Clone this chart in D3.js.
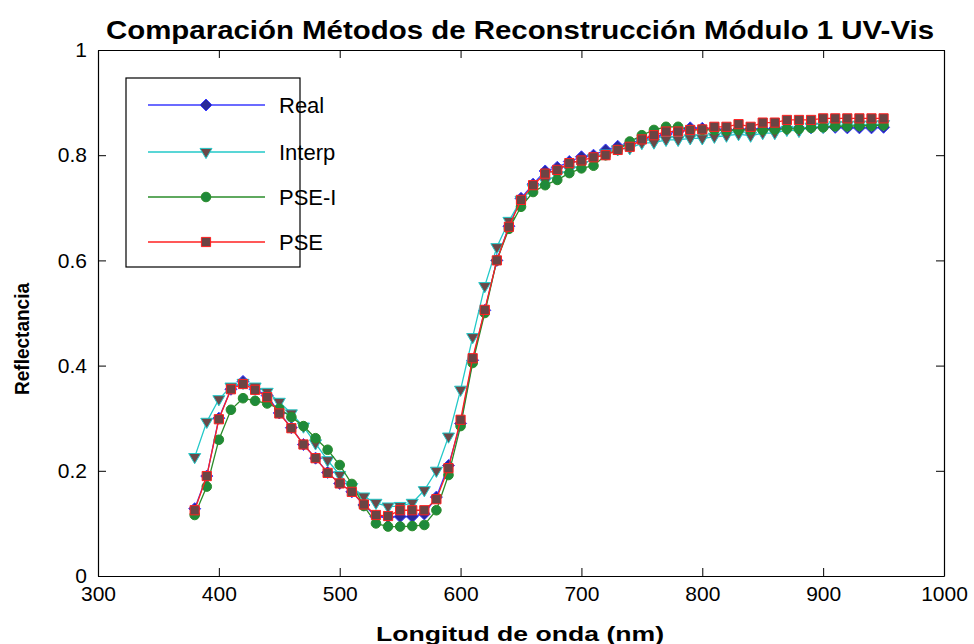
<!DOCTYPE html>
<html>
<head>
<meta charset="utf-8">
<script src="https://cdn.jsdelivr.net/npm/d3@7"></script>
<style>
  html, body { margin: 0; padding: 0; background: #fff; }
  svg { display: block; }
  text { font-family: "Liberation Sans", Arial, sans-serif; }
</style>
</head>
<body>
<svg id="chart" width="974" height="644"></svg>
<script>
// ---------------- DATA ----------------
const wavelengths = d3.range(380, 951, 10); // 380..950 nm
const real = [0.128,0.19,0.30,0.355,0.37,0.355,0.343,0.31,0.282,0.25,0.224,0.197,0.176,0.16,0.135,0.113,0.112,0.113,0.113,0.118,0.15,0.21,0.29,0.41,0.505,0.6,0.665,0.718,0.745,0.77,0.777,0.788,0.797,0.8,0.81,0.817,0.822,0.83,0.835,0.84,0.845,0.852,0.851,0.85,0.848,0.849,0.85,0.85,0.851,0.852,0.852,0.852,0.853,0.853,0.852,0.852,0.852,0.853];
const interp = [0.226,0.293,0.336,0.36,0.367,0.36,0.35,0.331,0.309,0.284,0.252,0.22,0.192,0.169,0.151,0.139,0.132,0.133,0.139,0.163,0.2,0.265,0.354,0.454,0.551,0.625,0.675,0.715,0.737,0.75,0.762,0.772,0.781,0.794,0.803,0.811,0.813,0.823,0.824,0.829,0.829,0.832,0.832,0.835,0.837,0.84,0.837,0.842,0.842,0.848,0.846,0.854,0.854,0.857,0.857,0.858,0.858,0.859];
const pseI = [0.116,0.17,0.259,0.316,0.338,0.333,0.328,0.318,0.302,0.285,0.262,0.24,0.211,0.175,0.133,0.1,0.094,0.094,0.095,0.097,0.125,0.192,0.285,0.405,0.5,0.6,0.66,0.702,0.73,0.743,0.753,0.766,0.775,0.78,0.8,0.81,0.826,0.838,0.848,0.854,0.854,0.848,0.848,0.848,0.847,0.848,0.848,0.848,0.849,0.85,0.85,0.852,0.853,0.855,0.855,0.856,0.856,0.857];
const pse = [0.125,0.19,0.298,0.355,0.365,0.354,0.34,0.309,0.281,0.25,0.224,0.196,0.176,0.16,0.136,0.116,0.114,0.125,0.125,0.125,0.146,0.205,0.297,0.414,0.506,0.6,0.664,0.715,0.743,0.765,0.772,0.785,0.79,0.796,0.8,0.81,0.816,0.83,0.838,0.845,0.845,0.848,0.849,0.854,0.854,0.859,0.854,0.862,0.862,0.867,0.867,0.867,0.87,0.87,0.87,0.87,0.87,0.87];

const seriesNames = ["Real", "Interp", "PSE-I", "PSE"];
const xTicks = [300,400,500,600,700,800,900,1000];
const yTicks = [0,0.2,0.4,0.6,0.8,1];

const title = "Comparación Métodos de Reconstrucción Módulo 1 UV-Vis";
const xLabel = "Longitud de onda (nm)";
const yLabel = "Reflectancia";

// ---------------- STYLE ----------------
const styles = {
  "Real":   { line: "#3a3aff", fill: "#2a2a9a", stroke: "#3a3aff", symbol: "diamond", r: 6 },
  "Interp": { line: "#22c8c8", fill: "#6b4848", stroke: "#22c8c8", symbol: "triDown", r: 6 },
  "PSE-I":  { line: "#2a8c2a", fill: "#1f8a3a", stroke: "#2a8c2a", symbol: "circle", r: 4.8 },
  "PSE":    { line: "#ff2020", fill: "#6b4444", stroke: "#ff2020", symbol: "square", r: 4.6 }
};
const seriesValues = { "Real": real, "Interp": interp, "PSE-I": pseI, "PSE": pse };

// ---------------- LAYOUT ----------------
const svg = d3.select("#chart");
const L = 98, R = 944, T = 50, B = 576;

const x = d3.scaleLinear().domain([300, 1000]).range([L, R]);
const y = d3.scaleLinear().domain([0, 1]).range([B, T]);

function markerPath(st) {
  const r = st.r;
  if (st.symbol === "triDown") return `M${-r},${-r*0.6}L${r},${-r*0.6}L0,${r*1.1}Z`;
  if (st.symbol === "diamond") return `M0,${-r}L${r},0L0,${r}L${-r},0Z`;
  if (st.symbol === "square") return `M${-r},${-r}H${r}V${r}H${-r}Z`;
  return d3.symbol().type(d3.symbolCircle).size(Math.PI * r * r)();
}

// Axes with inward ticks
const tickLen = 8;
const xAxisB = d3.axisBottom(x).tickValues(xTicks).tickSizeInner(-tickLen).tickSizeOuter(0).tickPadding(10).tickFormat(d3.format("d"));
const xAxisT = d3.axisTop(x).tickValues(xTicks).tickSizeInner(-tickLen).tickSizeOuter(0).tickFormat("");
const yAxisL = d3.axisLeft(y).tickValues(yTicks).tickSizeInner(-tickLen).tickSizeOuter(0).tickPadding(11).tickFormat(d => d === 0 ? "0" : d === 1 ? "1" : d3.format(".1f")(d));
const yAxisR = d3.axisRight(y).tickValues(yTicks).tickSizeInner(-tickLen).tickSizeOuter(0).tickFormat("");

function styleAxis(g) {
  g.attr("font-size", null).attr("font-family", null);
  g.selectAll("path").attr("stroke", "#000").attr("stroke-width", 1.2);
  g.selectAll("line").attr("stroke", "#000").attr("stroke-width", 1);
  g.selectAll("text").attr("fill", "#000").style("font-size", "21px")
    .style("font-family", '"Liberation Sans", Arial, sans-serif');
}
svg.append("g").attr("transform", `translate(0,${B})`).call(xAxisB).call(styleAxis);
svg.append("g").attr("transform", `translate(0,${T})`).call(xAxisT).call(styleAxis);
svg.append("g").attr("transform", `translate(${L},0)`).call(yAxisL).call(styleAxis);
svg.append("g").attr("transform", `translate(${R},0)`).call(yAxisR).call(styleAxis);

// Series
const lineGen = d3.line().x((d, i) => x(wavelengths[i])).y(d => y(d));
const plot = svg.append("g");
seriesNames.forEach(name => {
  const st = styles[name];
  const vals = seriesValues[name];
  const g = plot.append("g");
  g.append("path").datum(vals).attr("d", lineGen)
    .attr("fill", "none").attr("stroke", st.line).attr("stroke-width", 1.3);
  g.selectAll("path.m").data(vals).enter().append("path").attr("class", "m")
    .attr("d", markerPath(st))
    .attr("transform", (d, i) => `translate(${x(wavelengths[i])},${y(d)})`)
    .attr("fill", st.fill).attr("stroke", st.stroke).attr("stroke-width", 1);
});

// Legend
const lg = svg.append("g");
lg.append("rect").attr("x", 126).attr("y", 78).attr("width", 174).attr("height", 189)
  .attr("fill", "#fff").attr("stroke", "#000").attr("stroke-width", 1.2);
const legendY = [105, 152, 197, 242];
seriesNames.forEach((name, i) => {
  const st = styles[name];
  const yy = legendY[i];
  lg.append("line").attr("x1", 148).attr("x2", 265).attr("y1", yy).attr("y2", yy)
    .attr("stroke", st.line).attr("stroke-width", 1.3);
  lg.append("path").attr("d", markerPath(st)).attr("transform", `translate(206,${yy})`)
    .attr("fill", st.fill).attr("stroke", st.stroke).attr("stroke-width", 1);
  lg.append("text").attr("x", 279).attr("y", yy).attr("dy", "0.35em")
    .style("font-size", "22px").attr("fill", "#000").text(name);
});

// Titles
svg.append("text").attr("x", 520).attr("y", 39).attr("text-anchor", "middle")
  .style("font-size", "25px").style("font-weight", "bold")
  .attr("textLength", 828).attr("lengthAdjust", "spacingAndGlyphs").text(title);
svg.append("text").attr("x", 520).attr("y", 641).attr("text-anchor", "middle")
  .style("font-size", "20px").style("font-weight", "bold")
  .attr("textLength", 288).attr("lengthAdjust", "spacingAndGlyphs").text(xLabel);
svg.append("text").attr("transform", "translate(29,339) rotate(-90)").attr("text-anchor", "middle")
  .style("font-size", "20px").style("font-weight", "bold")
  .attr("textLength", 112).attr("lengthAdjust", "spacingAndGlyphs").text(yLabel);
</script>
</body>
</html>
